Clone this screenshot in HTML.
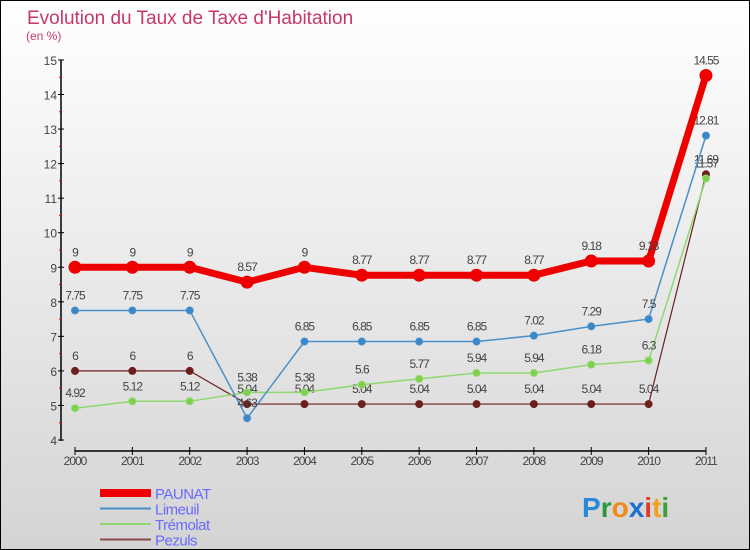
<!DOCTYPE html>
<html><head><meta charset="utf-8"><style>
html,body{margin:0;padding:0}
body{width:750px;height:550px;overflow:hidden;font-family:"Liberation Sans",sans-serif}
#wrap{position:absolute;left:0;top:0;width:748px;height:548px;border:1px solid #000;background:linear-gradient(#fff,#d4d4d4)}
</style></head><body>
<div id="wrap">
<svg id="chart" width="750" height="550" style="position:absolute;left:-1px;top:-1px"></svg>
</div>
<script>
const years=["2000","2001","2002","2003","2004","2005","2006","2007","2008","2009","2010","2011"];
const paunat=[9,9,9,8.57,9,8.77,8.77,8.77,8.77,9.18,9.18,14.55];
const limeuil=[7.75,7.75,7.75,4.63,6.85,6.85,6.85,6.85,7.02,7.29,7.5,12.81];
const tremolat=[4.92,5.12,5.12,5.38,5.38,5.6,5.77,5.94,5.94,6.18,6.3,11.57];
const pezuls=[6,6,6,5.04,5.04,5.04,5.04,5.04,5.04,5.04,5.04,11.69];
const yTicks=[4,5,6,7,8,9,10,11,12,13,14,15];
const NS="http://www.w3.org/2000/svg";
const svg=document.getElementById('chart');
const x=i=>75+i*57.36;
const y=v=>440-(v-4)*34.55;
function el(t,a,p){const e=document.createElementNS(NS,t);for(const k in a)e.setAttribute(k,a[k]);(p||svg).appendChild(e);return e;}
let t=el('text',{x:27,y:24,'font-size':19,fill:'#c8376a'});t.textContent="Evolution du Taux de Taxe d'Habitation";


t=el('text',{x:26,y:40,'font-size':12,fill:'#c8376a'});t.textContent="(en %)";


// axes
let a=el('line',{x1:61,y1:60,x2:61,y2:441,stroke:'#000','stroke-width':1.5});


a=el('line',{x1:75,y1:451,x2:706,y2:451,stroke:'#000','stroke-width':1.5});


yTicks.forEach((v,i)=>{
  el('line',{x1:58,y1:y(v),x2:64,y2:y(v),stroke:'#000'});
  if(i<yTicks.length-1)el('line',{x1:59,y1:y(v+0.5),x2:62,y2:y(v+0.5),stroke:'#e00'});
  const tt=el('text',{x:57,y:y(v)+5,'font-size':12,fill:'#444','text-anchor':'end'});tt.textContent=v;
  
  
});
years.forEach((yr,i)=>{
  el('line',{x1:x(i),y1:447,x2:x(i),y2:455,stroke:'#000'});
  const tt=el('text',{x:x(i),y:465,'font-size':12,fill:'#444','text-anchor':'middle','letter-spacing':'-1'});tt.textContent=yr;
  
  
});
function series(vals,color,w,r,name,dotFill,labelDy){
  const g=el('g',{});
  
  
  el('polyline',{points:vals.map((v,i)=>x(i)+','+y(v)).join(' '),fill:'none',stroke:color,'stroke-width':w},g);
  vals.forEach((v,i)=>{
    const c=el('circle',{cx:x(i),cy:y(v),r:r,fill:dotFill,stroke:color,'stroke-width':1},g);
    
    
    const l=el('text',{x:x(i),y:y(v)+labelDy,'font-size':12,fill:'#444','text-anchor':'middle','letter-spacing':'-1'},g);
    l.textContent=v;
    
    
  });
}
series(pezuls,'#6b1f1f',1.2,3.5,'pezuls','#6b1f1f',-11);
series(tremolat,'#8fd870',1.5,3.5,'tremolat','#7fd04a',-11);
series(limeuil,'#4a90c8',1.5,3.5,'limeuil','#3a88cc',-11);
series(paunat,'#ee0000',7,6,'paunat','#ee0000',-11);
// legend
const leg=[["PAUNAT","#ee0000",8],["Limeuil","#4a90c8",2],["Trémolat","#8fd870",2],["Pezuls","#8a4a4a",2]];
leg.forEach((d,i)=>{
  const g=el('g',{});
  
  
  const yy=493+i*15.5;
  el('line',{x1:100,y1:yy,x2:151,y2:yy,stroke:d[1],'stroke-width':d[2]},g);
  const tt=el('text',{x:155,y:yy+6,'font-size':15,fill:'#6a6aff','letter-spacing':'-0.5'},g);tt.textContent=d[0];
});
const lg=el('text',{x:582,y:517,'font-size':28,'font-weight':'bold','font-family':'Liberation Sans'});


[["P","#2a88d8"],["r","#2a9a3a"],["o","#f08a1a"],["x","#1a70d0"],["i","#e03a2a"],["t","#f0a020"],["i","#3aa03a"]].forEach(c=>{const s=el('tspan',{fill:c[1]},lg);s.textContent=c[0];});
</script>
</body></html>
